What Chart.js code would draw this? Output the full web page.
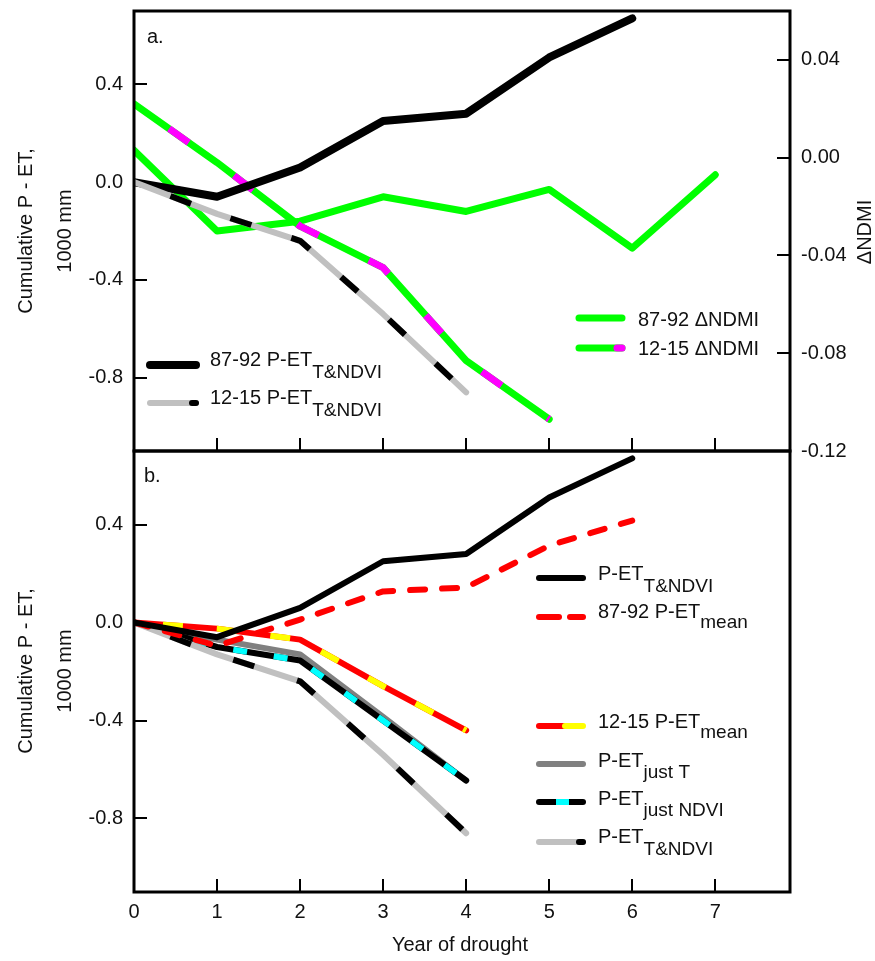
<!DOCTYPE html>
<html>
<head>
<meta charset="utf-8">
<title>Cumulative P - ET and ΔNDMI by year of drought</title>
<script src="https://cdn.jsdelivr.net/npm/chart.js@4.4.1/dist/chart.umd.min.js"></script>
<style>
  html, body { margin: 0; padding: 0; background: #fff; }
  #wrap { position: relative; width: 875px; height: 961px; }
  #wrap canvas { position: absolute; left: 0; }
  #panelA { top: 0; }
  #panelB { top: 440px; }
</style>
</head>
<body>
<div id="wrap">
  <canvas id="panelA" width="875" height="480"></canvas>
  <canvas id="panelB" width="875" height="521"></canvas>
</div>
<script>
const FONT = '"Liberation Sans", Arial, sans-serif';
const INK = '#111';

// ===== DATA =====
const years = [0, 1, 2, 3, 4, 5, 6, 7];

// cumulative P - ET (1000 mm), T&NDVI model
const pet8792 = [0, -0.06, 0.06, 0.25, 0.28, 0.51, 0.67];
const pet1215 = [0, -0.13, -0.24, -0.54, -0.86];

// change in NDMI
const ndmi8792 = [0.003, -0.030, -0.026, -0.016, -0.022, -0.013, -0.037, -0.007];
const ndmi1215 = [0.022, -0.002, -0.028, -0.045, -0.083, -0.107];

// model variants (panel b)
const petMean8792 = [0, -0.095, 0.012, 0.127, 0.143, 0.314, 0.416];
const petMean1215 = [0, -0.025, -0.07, -0.26, -0.44];
const petJustT = [0, -0.07, -0.13, -0.385, -0.645];
const petJustNdvi = [0, -0.10, -0.155, -0.40, -0.645];

// tick labels
const xTicks = [0, 1, 2, 3, 4, 5, 6, 7];
const petTicks = [-0.8, -0.4, 0, 0.4];
const ndmiTicks = [-0.12, -0.08, -0.04, 0, 0.04];

// ===== HELPERS =====
const points = vals => vals.map((y, i) => ({ x: years[i], y }));

function line(vals, color, width, extra) {
  return Object.assign({
    data: points(vals),
    borderColor: color,
    borderWidth: width,
    pointRadius: 0,
    tension: 0,
    fill: false,
    borderCapStyle: 'round',
    borderJoinStyle: 'round'
  }, extra || {});
}

// dashes laid over a solid line to give the two-colour look
function overlay(vals, color, width, dash, offset, extra) {
  return line(vals, color, width, Object.assign({
    borderDash: dash,
    borderDashOffset: offset,
    borderCapStyle: 'butt'
  }, extra || {}));
}

const tickGrid = { drawOnChartArea: false, color: '#000', lineWidth: 2, tickLength: -13 };
const tickFont = { family: FONT, size: 20 };

// fixed scale sizes, and no extra room for overhanging labels
function fixSize(w, h) {
  return s => {
    if (w !== null) s.width = w;
    if (h !== null) s.height = h;
    s.paddingTop = 0;
    s.paddingBottom = 0;
    s.paddingLeft = 0;
    s.paddingRight = 0;
  };
}

function xScale(height, showLabels) {
  return {
    type: 'linear', min: 0, max: 7.9,
    afterBuildTicks: s => { s.ticks = xTicks.map(v => ({ value: v })); },
    afterFit: fixSize(null, height),
    grid: tickGrid,
    border: { display: false },
    ticks: { display: showLabels, color: INK, font: tickFont, padding: 21, maxRotation: 0, autoSkip: false }
  };
}

function petScale() {
  return {
    type: 'linear', position: 'left', min: -1.1, max: 0.7,
    afterBuildTicks: s => { s.ticks = petTicks.map(v => ({ value: v })); },
    afterFit: fixSize(134, null),
    grid: tickGrid,
    border: { display: false },
    ticks: { color: INK, font: tickFont, padding: 24, callback: v => v.toFixed(1) }
  };
}

function seg(ctx, x1, x2, y, color, w, cap) {
  ctx.beginPath();
  ctx.lineCap = cap || 'round';
  ctx.strokeStyle = color;
  ctx.lineWidth = w;
  ctx.moveTo(x1, y);
  ctx.lineTo(x2, y);
  ctx.stroke();
}

function text(ctx, str, x, y, size, align) {
  ctx.font = size + 'px ' + FONT;
  ctx.fillStyle = INK;
  ctx.textAlign = align || 'left';
  ctx.textBaseline = 'alphabetic';
  ctx.fillText(str, x, y);
}

function label(ctx, x, y, main, sub, subDrop) {
  text(ctx, main, x, y, 20);
  if (sub) {
    ctx.font = '20px ' + FONT;
    const w = ctx.measureText(main).width;
    text(ctx, sub, x + w, y + (subDrop || 12), 19);
  }
}

function vtext(ctx, str, x, y) {
  ctx.save();
  ctx.translate(x, y);
  ctx.rotate(-Math.PI / 2);
  ctx.font = '20px ' + FONT;
  ctx.fillStyle = INK;
  ctx.textAlign = 'center';
  ctx.textBaseline = 'middle';
  ctx.fillText(str, 0, 0);
  ctx.restore();
}

// frame around the plot area plus titles and legend
function decor(draw) {
  return {
    id: 'decor',
    afterDraw(chart) {
      const { ctx, chartArea: a } = chart;
      ctx.save();
      ctx.strokeStyle = '#000';
      ctx.lineWidth = 3;
      ctx.strokeRect(a.left, a.top, a.right - a.left, a.bottom - a.top);
      draw(ctx);
      ctx.restore();
    }
  };
}

const common = {
  responsive: false,
  animation: false,
  devicePixelRatio: 1,
  events: [],
  plugins: { legend: { display: false }, tooltip: { enabled: false } }
};

// ===== PANEL A =====
new Chart(document.getElementById('panelA'), {
  type: 'line',
  data: {
    datasets: [
      overlay(pet1215, '#000', 6, [22, 42], 25, { yAxisID: 'y' }),
      line(pet1215, '#c0c0c0', 6, { yAxisID: 'y' }),
      line(pet8792, '#000', 8, { yAxisID: 'y' }),
      overlay(ndmi1215, '#ff00ff', 7, [24, 56], 37, { yAxisID: 'y2' }),
      line(ndmi1215, '#00ff00', 7, { yAxisID: 'y2' }),
      line(ndmi8792, '#00ff00', 7, { yAxisID: 'y2' })
    ]
  },
  options: Object.assign({}, common, {
    layout: { padding: { top: 11, left: 0, right: 0, bottom: 0 } },
    scales: {
      x: xScale(29, false),
      y: petScale(),
      y2: {
        type: 'linear', position: 'right', min: -0.12, max: 0.06,
        afterBuildTicks: s => { s.ticks = ndmiTicks.map(v => ({ value: v })); },
        afterFit: fixSize(85, null),
        grid: tickGrid,
        border: { display: false },
        ticks: { color: INK, font: tickFont, padding: 24, callback: v => v.toFixed(2) }
      }
    }
  }),
  plugins: [decor(ctx => {
    text(ctx, 'a.', 147, 43, 20);
    vtext(ctx, 'Cumulative P - ET,', 26, 231);
    vtext(ctx, '1000 mm', 65, 231);
    vtext(ctx, 'ΔNDMI', 865, 232);

    seg(ctx, 150, 196, 365, '#000', 8);
    label(ctx, 210, 366, '87-92 P-ET', 'T&NDVI');
    seg(ctx, 150, 196, 403, '#c0c0c0', 6);
    seg(ctx, 192, 196, 403, '#000', 6);
    label(ctx, 210, 404, '12-15 P-ET', 'T&NDVI');

    seg(ctx, 579, 622, 318, '#00ff00', 7);
    label(ctx, 638, 326, '87-92 ΔNDMI');
    seg(ctx, 579, 622, 348, '#00ff00', 7);
    seg(ctx, 617, 622, 348, '#ff00ff', 7);
    label(ctx, 638, 355, '12-15 ΔNDMI');
  })]
});

// ===== PANEL B =====
const oy = 440;
new Chart(document.getElementById('panelB'), {
  type: 'line',
  data: {
    datasets: [
      line(pet8792, '#000', 6),
      line(petMean8792, '#ff0000', 6, { borderDash: [15, 17] }),
      overlay(petMean1215, '#ffff00', 6, [20, 34], 25),
      line(petMean1215, '#ff0000', 6),
      overlay(pet1215, '#000', 6, [22, 45], 28),
      line(pet1215, '#c0c0c0', 6),
      overlay(petJustNdvi, '#00ffff', 6, [14, 27], 20),
      line(petJustNdvi, '#000', 6),
      line(petJustT, '#808080', 6)
    ]
  },
  options: Object.assign({}, common, {
    layout: { padding: { top: 11, left: 0, right: 85, bottom: 0 } },
    scales: {
      x: xScale(69, true),
      y: petScale()
    }
  }),
  plugins: [decor(ctx => {
    text(ctx, 'b.', 144, 482 - oy, 20);
    vtext(ctx, 'Cumulative P - ET,', 26, 671 - oy);
    vtext(ctx, '1000 mm', 65, 671 - oy);
    text(ctx, 'Year of drought', 460, 951 - oy, 20, 'center');

    const lx1 = 539, lx2 = 583, tx = 598;
    seg(ctx, lx1, lx2, 578 - oy, '#000', 6);
    label(ctx, tx, 580 - oy, 'P-ET', 'T&NDVI');

    seg(ctx, lx1, 559, 617 - oy, '#ff0000', 6);
    seg(ctx, 570, lx2, 617 - oy, '#ff0000', 6);
    label(ctx, tx, 618 - oy, '87-92 P-ET', 'mean', 10);

    seg(ctx, lx1, 565, 726 - oy, '#ff0000', 6);
    seg(ctx, 565, lx2, 726 - oy, '#ffff00', 6);
    seg(ctx, 565, 575, 726 - oy, '#ffff00', 6, 'butt');
    label(ctx, tx, 728 - oy, '12-15 P-ET', 'mean', 10);

    seg(ctx, lx1, lx2, 764 - oy, '#808080', 6);
    label(ctx, tx, 767 - oy, 'P-ET', 'just T', 11);

    seg(ctx, lx1, lx2, 802 - oy, '#000', 6);
    seg(ctx, 556, 569, 802 - oy, '#00ffff', 6, 'butt');
    label(ctx, tx, 805 - oy, 'P-ET', 'just NDVI', 11);

    seg(ctx, lx1, lx2, 842 - oy, '#c0c0c0', 6);
    seg(ctx, 579, lx2, 842 - oy, '#000', 6);
    label(ctx, tx, 843 - oy, 'P-ET', 'T&NDVI');
  })]
});
</script>
</body>
</html>
